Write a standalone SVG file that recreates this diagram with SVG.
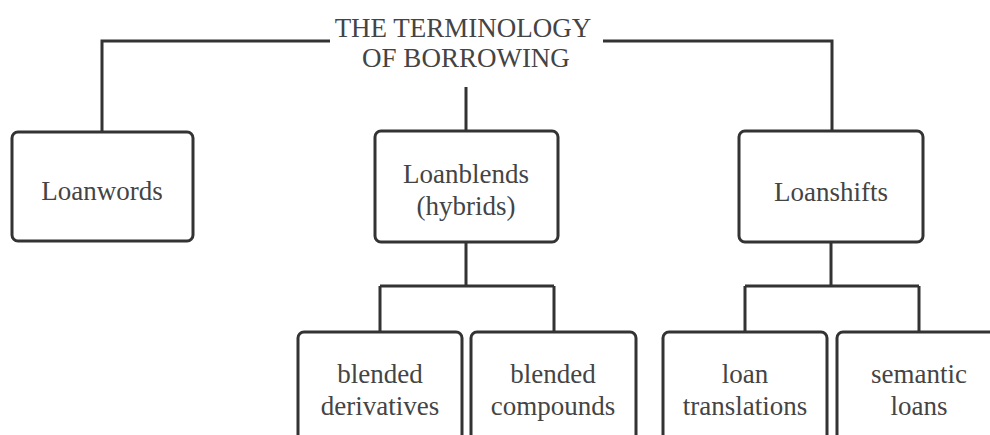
<svg xmlns="http://www.w3.org/2000/svg" width="990" height="435" viewBox="0 0 990 435">
<style>
.box{fill:#fff;stroke:#333;stroke-width:3}
.ln{fill:none;stroke:#333;stroke-width:3}
text{font-family:"Liberation Serif","Times New Roman",serif;font-size:27px;fill:#444;text-anchor:middle}
</style>
<rect width="990" height="435" fill="#fff"/>
<g id="connectors">
<path class="ln" d="M330 41 H102 V132"/>
<path class="ln" d="M603 41 H832 V131"/>
<path class="ln" d="M466 87 V131"/>
<path class="ln" d="M466 242 V286 M380 286 H554 M380 286 V332 M554 286 V332"/>
<path class="ln" d="M831 242 V286 M745 286 H919 M745 286 V332 M919 286 V332"/>
</g>
<g id="title">
<text x="463" y="37">THE TERMINOLOGY</text>
<text x="466" y="67">OF BORROWING</text>
</g>
<g id="loanwords">
<rect class="box" x="12" y="132" width="181" height="109" rx="6"/>
<text x="102" y="200">Loanwords</text>
</g>
<g id="loanblends">
<rect class="box" x="375" y="131" width="183" height="111" rx="6"/>
<text x="466" y="183">Loanblends</text>
<text x="466" y="215">(hybrids)</text>
</g>
<g id="loanshifts">
<rect class="box" x="739" y="131" width="184" height="111" rx="6"/>
<text x="831" y="201">Loanshifts</text>
</g>
<g id="blended-derivatives">
<rect class="box" x="298" y="332" width="164" height="130" rx="6"/>
<text x="380" y="383">blended</text>
<text x="380" y="415">derivatives</text>
</g>
<g id="blended-compounds">
<rect class="box" x="471" y="332" width="165" height="130" rx="6"/>
<text x="553" y="383">blended</text>
<text x="553" y="415">compounds</text>
</g>
<g id="loan-translations">
<rect class="box" x="663" y="332" width="164" height="130" rx="6"/>
<text x="745" y="383">loan</text>
<text x="745" y="415">translations</text>
</g>
<g id="semantic-loans">
<rect class="box" x="837" y="332" width="164" height="130" rx="6"/>
<text x="919" y="383">semantic</text>
<text x="919" y="415">loans</text>
</g>
</svg>
